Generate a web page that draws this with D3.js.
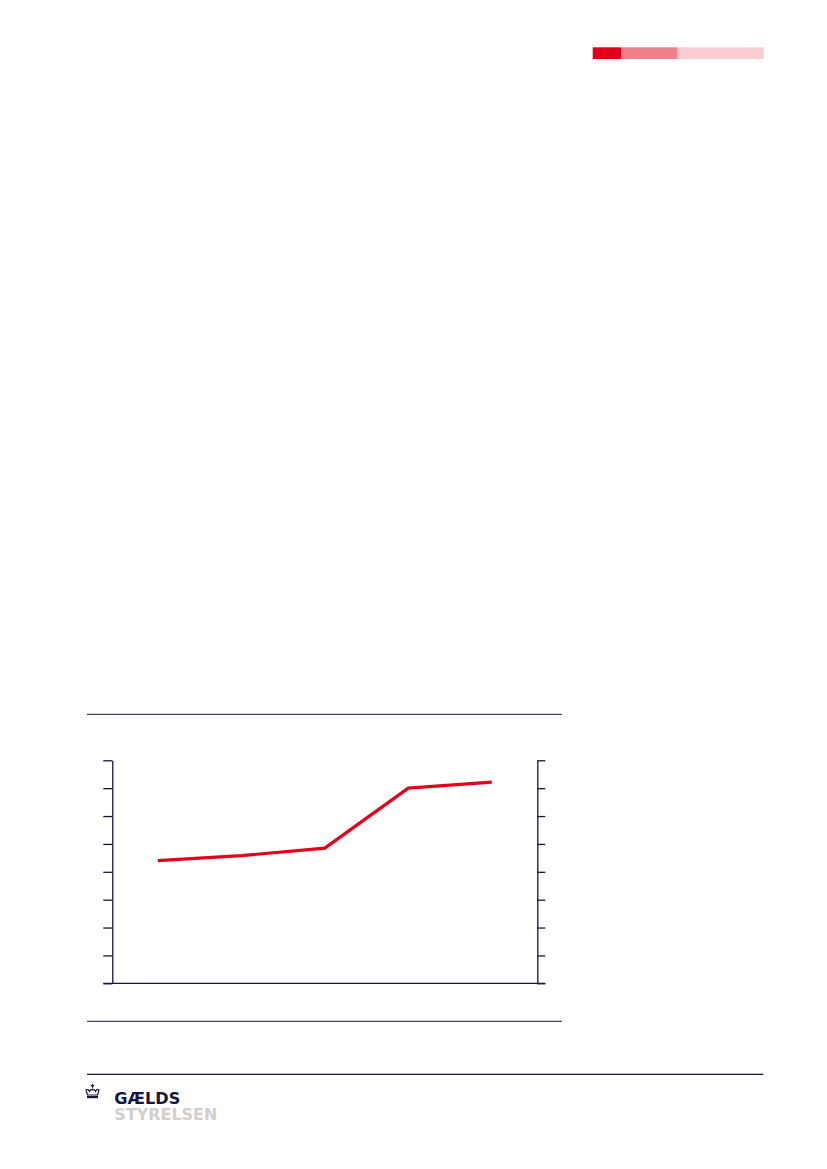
<!DOCTYPE html>
<html>
<head>
<meta charset="utf-8">
<script src="https://cdn.jsdelivr.net/npm/d3@7"></script>
<style>
  body { margin: 0; background: #fff; }
  svg { display: block; }
</style>
</head>
<body>
<div id="page"></div>
<script>
// categories (no labels are printed in the figure) and the single series
const categories = ['p1', 'p2', 'p3', 'p4', 'p5']
const values = [4.40, 4.58, 4.85, 7.00, 7.22]
const yTicks = [0, 1, 2, 3, 4, 5, 6, 7, 8]
const headerBlocks = [
  { w: 28.3, color: '#e2001a' },
  { w: 56.7, color: '#f0818a' },
  { w: 86, color: '#f9cdd1' }
]

const navy = '#15153d'
const red = '#e2001a'

const svg = d3.select('#page')
  .append('svg')
  .attr('width', 827)
  .attr('height', 1169)

// top right colour strip
let bx = 592.7
headerBlocks.forEach(b => {
  svg.append('rect')
    .attr('x', bx).attr('y', 47.3)
    .attr('width', b.w).attr('height', 11.7)
    .attr('fill', b.color)
  bx += b.w
})

// rules framing the chart
svg.append('line')
  .attr('x1', 87).attr('x2', 562).attr('y1', 714.3).attr('y2', 714.3)
  .attr('stroke', navy).attr('stroke-width', 1)
svg.append('line')
  .attr('x1', 87).attr('x2', 562).attr('y1', 1021.3).attr('y2', 1021.3)
  .attr('stroke', navy).attr('stroke-width', 1)

const plotLeft = 112.3, plotRight = 537.3, plotTop = 760.3, plotBottom = 983.3

const x = d3.scalePoint().domain(categories).range([plotLeft, plotRight]).padding(0.545)
const y = d3.scaleLinear().domain([0, 8]).range([plotBottom, plotTop])

const yLeft = d3.axisLeft(y).tickValues(yTicks).tickSize(9).tickSizeOuter(0).tickFormat('')
const yRight = d3.axisRight(y).tickValues(yTicks).tickSize(8).tickSizeOuter(0).tickFormat('')

const gl = svg.append('g').attr('transform', `translate(${plotLeft},0)`).call(yLeft)
const gr = svg.append('g').attr('transform', `translate(${plotRight},0)`).call(yRight)
;[gl, gr].forEach(g => {
  g.selectAll('path, line').attr('stroke', navy).attr('stroke-width', 1.3)
})

// baseline spanning tick to tick
svg.append('line')
  .attr('x1', plotLeft - 9).attr('x2', plotRight + 8)
  .attr('y1', y(0)).attr('y2', y(0))
  .attr('stroke', navy).attr('stroke-width', 1.3)

const line = d3.line()
  .x((d, i) => x(categories[i]))
  .y(d => y(d))

svg.append('path')
  .datum(values)
  .attr('d', line)
  .attr('fill', 'none')
  .attr('stroke', red)
  .attr('stroke-width', 3.2)

// footer
svg.append('line')
  .attr('x1', 87).attr('x2', 763.3).attr('y1', 1074.3).attr('y2', 1074.3)
  .attr('stroke', navy).attr('stroke-width', 1.2)

const logo = svg.append('g').attr('transform', 'translate(85.5,1084)')
// small crown
logo.append('path')
  .attr('d', 'M7,0 L7,4.5 M5.3,1.6 L8.7,1.6')
  .attr('stroke', navy).attr('stroke-width', 1.1).attr('fill', 'none')
logo.append('path')
  .attr('d', 'M0.5,6 Q2.5,4.5 4,7.5 Q5.5,4.5 7,6 Q8.5,4.5 10,7.5 Q11.5,4.5 13.5,6 L12,11 L2,11 Z')
  .attr('stroke', navy).attr('stroke-width', 1.2).attr('fill', 'none')
logo.append('rect')
  .attr('x', 1.5).attr('y', 12).attr('width', 11).attr('height', 2.2)
  .attr('fill', navy)

svg.append('text')
  .attr('x', 114.3).attr('y', 1104.3)
  .attr('font-family', '"DejaVu Sans", sans-serif')
  .attr('font-weight', 'bold')
  .attr('font-size', 15.5)
  .attr('textLength', 66)
  .attr('lengthAdjust', 'spacingAndGlyphs')
  .attr('fill', navy)
  .text('GÆLDS')
svg.append('text')
  .attr('x', 114.3).attr('y', 1120)
  .attr('font-family', '"DejaVu Sans", sans-serif')
  .attr('font-weight', 'bold')
  .attr('font-size', 15)
  .attr('textLength', 103)
  .attr('lengthAdjust', 'spacingAndGlyphs')
  .attr('fill', '#d5cdc9')
  .text('STYRELSEN')
</script>
</body>
</html>
